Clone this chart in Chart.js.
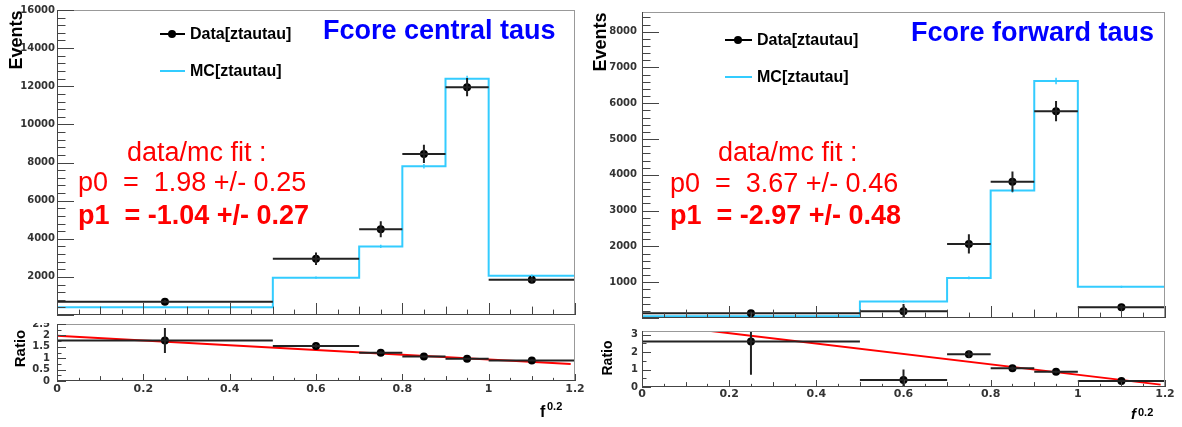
<!DOCTYPE html>
<html>
<head>
<meta charset="utf-8">
<script src="https://cdn.jsdelivr.net/npm/chart.js@4.4.1/dist/chart.umd.min.js"></script>
<style>
  body { margin: 0; background: #fff; width: 1182px; height: 427px; overflow: hidden; position: relative; font-family: "Liberation Sans", Arial, sans-serif; }
  .pad { position: absolute; }
  .main { background: #fff; z-index: 2; }
  .ratio { z-index: 1; }
  .txt { position: absolute; white-space: pre; line-height: 1; z-index: 3; }
  .rot { position: absolute; width: 100px; text-align: center; line-height: 1; font-weight: bold; transform: rotate(-90deg); z-index: 3; }
  .leg { position: absolute; z-index: 3; }
</style>
</head>
<body>

<div class="pad main" style="left:0;top:0;width:580px;height:323px"><canvas id="centralMain"></canvas></div>
<div class="pad ratio" style="left:0;top:310px;width:600px;height:117px"><canvas id="centralRatio"></canvas></div>
<div class="pad main" style="left:590px;top:0;width:580px;height:329px"><canvas id="forwardMain"></canvas></div>
<div class="pad ratio" style="left:590px;top:315px;width:592px;height:112px"><canvas id="forwardRatio"></canvas></div>

<!-- axis titles -->
<div class="rot" style="left:-34px;top:31px;font-size:18px">Events</div>
<div class="rot" style="left:550px;top:33px;font-size:18px">Events</div>
<div class="rot" style="left:-31px;top:341px;font-size:15px">Ratio</div>
<div class="rot" style="left:557px;top:351px;font-size:14px">Ratio</div>
<div class="txt" style="left:540px;top:404px;font-size:16px;font-weight:bold">f</div>
<div class="txt" style="left:547px;top:401px;font-size:11px;font-weight:bold">0.2</div>
<div class="txt" style="left:1131px;top:406px;font-size:15px;font-weight:bold;font-style:italic">f</div>
<div class="txt" style="left:1138px;top:407px;font-size:11px;font-weight:bold">0.2</div>

<!-- titles -->
<div class="txt" style="left:323px;top:17px;font-size:27px;font-weight:bold;color:#0000ff">Fcore central taus</div>
<div class="txt" style="left:911px;top:19px;font-size:27px;font-weight:bold;color:#0000ff">Fcore forward taus</div>

<!-- fit results -->
<div class="txt" style="left:127px;top:139px;font-size:27px;color:#ff0000">data/mc fit :</div>
<div class="txt" style="left:78px;top:169px;font-size:27px;color:#ff0000">p0  =  1.98 +/- 0.25</div>
<div class="txt" style="left:78px;top:202px;font-size:27px;font-weight:bold;color:#ff0000">p1  = -1.04 +/- 0.27</div>
<div class="txt" style="left:718px;top:139px;font-size:27px;color:#ff0000">data/mc fit :</div>
<div class="txt" style="left:670px;top:170px;font-size:27px;color:#ff0000">p0  =  3.67 +/- 0.46</div>
<div class="txt" style="left:670px;top:202px;font-size:27px;font-weight:bold;color:#ff0000">p1  = -2.97 +/- 0.48</div>

<!-- legends -->
<div class="leg" style="left:160px;top:33px;width:25px;height:2px;background:#000"></div>
<div class="leg" style="left:168px;top:30px;width:8px;height:8px;border-radius:50%;background:#000"></div>
<div class="txt" style="left:190px;top:26px;font-size:16px;font-weight:bold">Data[ztautau]</div>
<div class="leg" style="left:160px;top:70px;width:25px;height:2px;background:#33ccff"></div>
<div class="txt" style="left:190px;top:63px;font-size:16px;font-weight:bold">MC[ztautau]</div>

<div class="leg" style="left:725px;top:39px;width:27px;height:2px;background:#000"></div>
<div class="leg" style="left:734px;top:36px;width:8px;height:8px;border-radius:50%;background:#000"></div>
<div class="txt" style="left:757px;top:32px;font-size:16px;font-weight:bold">Data[ztautau]</div>
<div class="leg" style="left:725px;top:76px;width:27px;height:2px;background:#33ccff"></div>
<div class="txt" style="left:757px;top:69px;font-size:16px;font-weight:bold">MC[ztautau]</div>

<script>
// bins of f_core^0.2
const binEdges = [0, 0.5, 0.7, 0.8, 0.9, 1.0, 1.2];
const binCentres = [0.25, 0.6, 0.75, 0.85, 0.95, 1.1];
const xTickValues = [0, 0.2, 0.4, 0.6, 0.8, 1.0, 1.2];
const xTickLabels = ['0', '0.2', '0.4', '0.6', '0.8', '1', '1.2'];

// central taus
const centralData = [700, 2950, 4500, 8450, 11950, 1850];
const centralDataErr = [90, 330, 420, 480, 480, 140];
const centralMC = [410, 1960, 3600, 7800, 12400, 2060];
const centralMCErr = [20, 60, 80, 120, 150, 60];
const centralRatio = [1.78, 1.54, 1.24, 1.07, 0.98, 0.90];
const centralRatioErr = [0.55, 0.08, 0.06, 0.05, 0.04, 0.05];
const centralFit = [1.98, -1.04];
const centralYTicks = [2000, 4000, 6000, 8000, 10000, 12000, 14000, 16000];
const centralRatioTicks = [0, 0.5, 1, 1.5, 2, 2.5];

// forward taus
const forwardData = [130, 190, 2070, 3810, 5780, 300];
const forwardDataErr = [50, 200, 270, 280, 280, 60];
const forwardMC = [50, 460, 1120, 3560, 6620, 870];
const forwardMCErr = [10, 30, 40, 60, 90, 30];
const forwardRatio = [2.6, 0.4, 1.87, 1.07, 0.87, 0.34];
const forwardRatioErr = [1.9, 0.6, 0.2, 0.1, 0.08, 0.08];
const forwardFit = [3.67, -2.97];
const forwardYTicks = [1000, 2000, 3000, 4000, 5000, 6000, 7000, 8000];
const forwardRatioTicks = [0, 1, 2, 3];

const fitRange = [0, 1.19];

const MC_COLOR = '#33ccff';
const tickFont = { family: '"DejaVu Sans", sans-serif', weight: 'bold', size: 10 };

// error bars (data: bin width + stat error, MC: small stat error)
function errPlugin(sets) {
  return {
    id: 'errBars',
    afterDatasetsDraw(chart) {
      const { ctx, chartArea: a, scales: { x, y } } = chart;
      ctx.save();
      ctx.beginPath();
      ctx.rect(a.left, a.top, a.right - a.left, a.bottom - a.top);
      ctx.clip();
      sets.forEach(s => {
        ctx.strokeStyle = s.color;
        ctx.lineWidth = s.width;
        s.vals.forEach((v, i) => {
          const px = x.getPixelForValue(binCentres[i]);
          const py = y.getPixelForValue(v);
          ctx.beginPath();
          if (s.xBins) {
            ctx.moveTo(x.getPixelForValue(binEdges[i]), py);
            ctx.lineTo(x.getPixelForValue(binEdges[i + 1]), py);
          }
          ctx.moveTo(px, y.getPixelForValue(v - s.err[i]));
          ctx.lineTo(px, y.getPixelForValue(v + s.err[i]));
          ctx.stroke();
        });
      });
      ctx.restore();
    }
  };
}

// ROOT style frame with inner ticks
function framePlugin(f) {
  return {
    id: 'rootFrame',
    afterDatasetsDraw(chart) {
      const { ctx, chartArea: a, scales: { x, y } } = chart;
      ctx.save();
      ctx.lineWidth = 1;
      ctx.strokeStyle = '#999';
      ctx.strokeRect(a.left + 0.5, a.top + 0.5, a.right - a.left - 1, a.bottom - a.top - 1);
      ctx.strokeStyle = '#444';
      ctx.beginPath();
      ctx.moveTo(a.left + 0.5, a.top); ctx.lineTo(a.left + 0.5, a.bottom);
      ctx.moveTo(a.left, a.bottom - 0.5); ctx.lineTo(a.right, a.bottom - 0.5);
      const ny = Math.floor((y.max - y.min) / f.yMinor + 1e-6);
      for (let k = 0; k <= ny; k++) {
        const v = y.min + k * f.yMinor;
        const r = v / f.yMajor;
        const major = Math.abs(r - Math.round(r)) < 1e-6;
        const py = Math.round(y.getPixelForValue(v)) + 0.5;
        ctx.moveTo(a.left, py);
        ctx.lineTo(a.left + (major ? f.yLen : f.yLen * 0.5), py);
      }
      for (let k = 0; k <= 24; k++) {
        const len = k % 4 === 0 ? f.xLen : (k % 2 === 0 ? f.xLen * 0.7 : f.xLen * 0.45);
        const px = Math.round(x.getPixelForValue(k * 0.05)) + 0.5;
        ctx.moveTo(px, a.bottom);
        ctx.lineTo(px, a.bottom - len);
      }
      ctx.stroke();
      ctx.restore();
    }
  };
}

function mainChart(id, o) {
  return new Chart(document.getElementById(id), {
    type: 'scatter',
    data: {
      datasets: [
        {
          label: 'Data[ztautau]',
          data: binCentres.map((x, i) => ({ x, y: o.data[i] })),
          pointRadius: 4, pointBackgroundColor: '#000', pointBorderWidth: 0, showLine: false
        },
        {
          label: 'MC[ztautau]',
          type: 'line',
          data: binEdges.map((x, i) => ({ x, y: o.mc[Math.min(i, o.mc.length - 1)] })),
          stepped: 'before', borderColor: MC_COLOR, borderWidth: 2, pointRadius: 0, fill: false
        }
      ]
    },
    options: {
      responsive: true, maintainAspectRatio: false, animation: false, events: [],
      layout: { padding: o.padding },
      plugins: { legend: { display: false }, tooltip: { enabled: false } },
      scales: {
        x: { type: 'linear', min: 0, max: 1.2, display: false },
        y: {
          type: 'linear', min: 0, max: o.yMax,
          grid: { display: false, drawTicks: false }, border: { display: false },
          afterBuildTicks: s => { s.ticks = o.yTicks.map(v => ({ value: v })); },
          ticks: { font: tickFont, color: '#333', padding: o.labelPad, autoSkip: false, callback: v => String(v) },
          afterFit: s => { s.width = o.yWidth; }
        }
      }
    },
    plugins: [
      errPlugin([
        { vals: o.mc, err: o.mcErr, color: MC_COLOR, width: 1.5, xBins: false },
        { vals: o.data, err: o.dataErr, color: '#222', width: 2, xBins: true }
      ]),
      framePlugin({ yMinor: o.yMinor, yMajor: o.yMajor, yLen: 17, xLen: 12 })
    ]
  });
}

function ratioChart(id, o) {
  return new Chart(document.getElementById(id), {
    type: 'scatter',
    data: {
      datasets: [
        {
          label: 'Ratio',
          data: binCentres.map((x, i) => ({ x, y: o.ratio[i] })),
          pointRadius: 4, pointBackgroundColor: '#000', pointBorderWidth: 0, showLine: false
        },
        {
          label: 'fit',
          type: 'line',
          data: fitRange.map(x => ({ x, y: o.fit[0] + o.fit[1] * x })),
          borderColor: '#ff0000', borderWidth: 2, pointRadius: 0, fill: false
        }
      ]
    },
    options: {
      responsive: true, maintainAspectRatio: false, animation: false, events: [],
      layout: { padding: o.padding },
      plugins: { legend: { display: false }, tooltip: { enabled: false } },
      scales: {
        x: {
          type: 'linear', min: 0, max: 1.2,
          grid: { display: false, drawTicks: false }, border: { display: false },
          afterBuildTicks: s => { s.ticks = xTickValues.map(v => ({ value: v })); },
          ticks: {
            font: { family: '"DejaVu Sans", sans-serif', weight: 'bold', size: 11 }, color: '#333',
            padding: o.xLabelPad, autoSkip: false, maxRotation: 0,
            callback: (v, i) => xTickLabels[i]
          },
          afterFit: s => { s.height = o.xHeight; }
        },
        y: {
          type: 'linear', min: 0, max: o.yMax,
          grid: { display: false, drawTicks: false }, border: { display: false },
          afterBuildTicks: s => { s.ticks = o.yTicks.map(v => ({ value: v })); },
          ticks: { font: tickFont, color: '#333', padding: o.labelPad, autoSkip: false, callback: v => String(v) },
          afterFit: s => { s.width = o.yWidth; }
        }
      }
    },
    plugins: [
      errPlugin([{ vals: o.ratio, err: o.ratioErr, color: '#222', width: 2, xBins: true }]),
      framePlugin({ yMinor: o.yMinor, yMajor: o.yMajor, yLen: 9, xLen: 7 })
    ]
  });
}

mainChart('centralMain', {
  data: centralData, dataErr: centralDataErr, mc: centralMC, mcErr: centralMCErr,
  yMax: 16000, yTicks: centralYTicks, yMajor: 2000, yMinor: 400,
  yWidth: 57, labelPad: 2, padding: { top: 10, right: 5, bottom: 2, left: 0 }
});
ratioChart('centralRatio', {
  ratio: centralRatio, ratioErr: centralRatioErr, fit: centralFit,
  yMax: 2.5, yTicks: centralRatioTicks, yMajor: 0.5, yMinor: 0.25,
  yWidth: 57, labelPad: 7, xHeight: 46, xLabelPad: 2,
  padding: { top: 14, right: 25, bottom: 0, left: 0 }
});
mainChart('forwardMain', {
  data: forwardData, dataErr: forwardDataErr, mc: forwardMC, mcErr: forwardMCErr,
  yMax: 8550, yTicks: forwardYTicks, yMajor: 1000, yMinor: 200,
  yWidth: 52, labelPad: 5, padding: { top: 12, right: 5, bottom: 3, left: 0 }
});
ratioChart('forwardRatio', {
  ratio: forwardRatio, ratioErr: forwardRatioErr, fit: forwardFit,
  yMax: 3.2, yTicks: forwardRatioTicks, yMajor: 1, yMinor: 0.5,
  yWidth: 52, labelPad: 4, xHeight: 40, xLabelPad: 1,
  padding: { top: 16, right: 17, bottom: 0, left: 0 }
});
</script>
</body>
</html>
